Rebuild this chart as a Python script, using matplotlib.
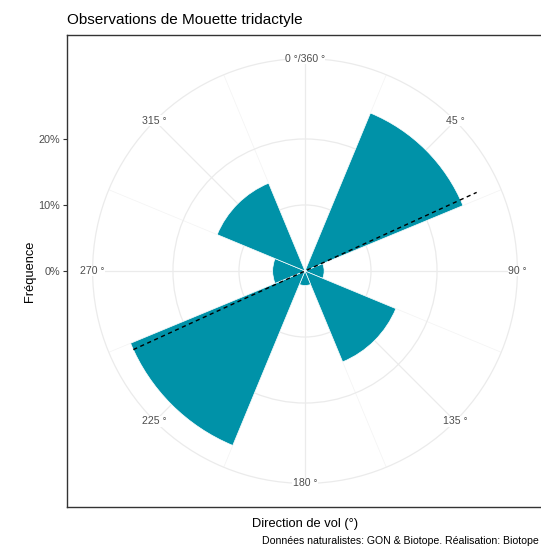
import numpy as np
import matplotlib.pyplot as plt
from matplotlib.patches import Wedge, Circle

plt.rcParams['font.family'] = ['Liberation Sans', 'DejaVu Sans']

# frequences par secteur de direction (%)
directions = [0, 45, 90, 135, 180, 225, 270, 315]
freq = [0.0, 25.9, 2.9, 14.9, 2.2, 28.6, 4.9, 14.4]
theta_labels = ['0 °/360 °', '45 °', '90 °', '135 °', '180 °', '225 °', '270 °', '315 °']
r_ticks = [0, 10, 20]
r_labels = ['0%', '10%', '20%']
mean_dir = 65.4   # direction moyenne (ligne pointillee)

bar_col = '#0092A8'
grid_col = '#EBEBEB'
txt_col = '#4D4D4D'
width = 45

fig = plt.figure(figsize=(5.41, 5.46), dpi=100)
ax = fig.add_axes([67/541, 39/546, 476/541, 472/546])

fmax = max(freq)
R = 1.25*fmax          # demi-hauteur du panneau
r_out = 1.125*fmax     # cercle exterieur
ax.set_ylim(-R, R)
ax.set_xlim(-R*238/236, R*238/236)

def xy(ang, r):
    a = np.deg2rad(ang)
    return r*np.sin(a), r*np.cos(a)

# grille
for ang in np.arange(0, 360, 22.5):
    x, y = xy(ang, r_out)
    major = (ang % 45 == 0)
    ax.plot([0, x], [0, y], color=grid_col if major else '#F3F3F3',
            lw=0.9 if major else 0.5, zorder=0.5)
for r in r_ticks[1:] + [r_out]:
    ax.add_patch(Circle((0, 0), r, fill=False, ec=grid_col, lw=0.9, zorder=0.5))

# secteurs
for d, f in zip(directions, freq):
    if f <= 0:
        continue
    ax.add_patch(Wedge((0, 0), f, 90 - (d + width/2), 90 - (d - width/2),
                       fc=bar_col, ec='white', lw=0.5, zorder=2))

# direction moyenne
x1, y1 = xy(mean_dir, fmax)
x2, y2 = xy(mean_dir + 180, fmax)
ax.plot([x2, x1], [y2, y1], color='black', lw=1.0, ls=(0, (3, 2.5)), zorder=3)

# etiquettes d'angle
for d, lab in zip(directions, theta_labels):
    x, y = xy(d, r_out)
    ax.text(x, y, lab, ha='center', va='center', fontsize=7.6, color=txt_col,
            zorder=4, bbox=dict(fc='white', ec='none', pad=0.3))

ax.set_xticks([])
ax.set_yticks(r_ticks)
ax.set_yticklabels(r_labels, fontsize=7.8, color=txt_col)
ax.tick_params(axis='y', length=3, width=0.8, color='#333333', pad=2)
for s in ax.spines.values():
    s.set_color('#333333')
    s.set_linewidth(1.0)

fig.text(67/541, 1 - 20/546, 'Observations de Mouette tridactyle', fontsize=11,
         ha='left', va='center')
fig.text(30/541, 1 - 271/546, 'Fréquence', fontsize=9.3, rotation=90,
         ha='center', va='center')
fig.text(305/541, 1 - 524/546, 'Direction de vol (°)', fontsize=9.3,
         ha='center', va='center')
fig.text(539/541, 1 - 541/546, 'Données naturalistes: GON & Biotope. Réalisation: Biotope',
         fontsize=7.6, ha='right', va='center')

plt.savefig('out.png', dpi=100)
